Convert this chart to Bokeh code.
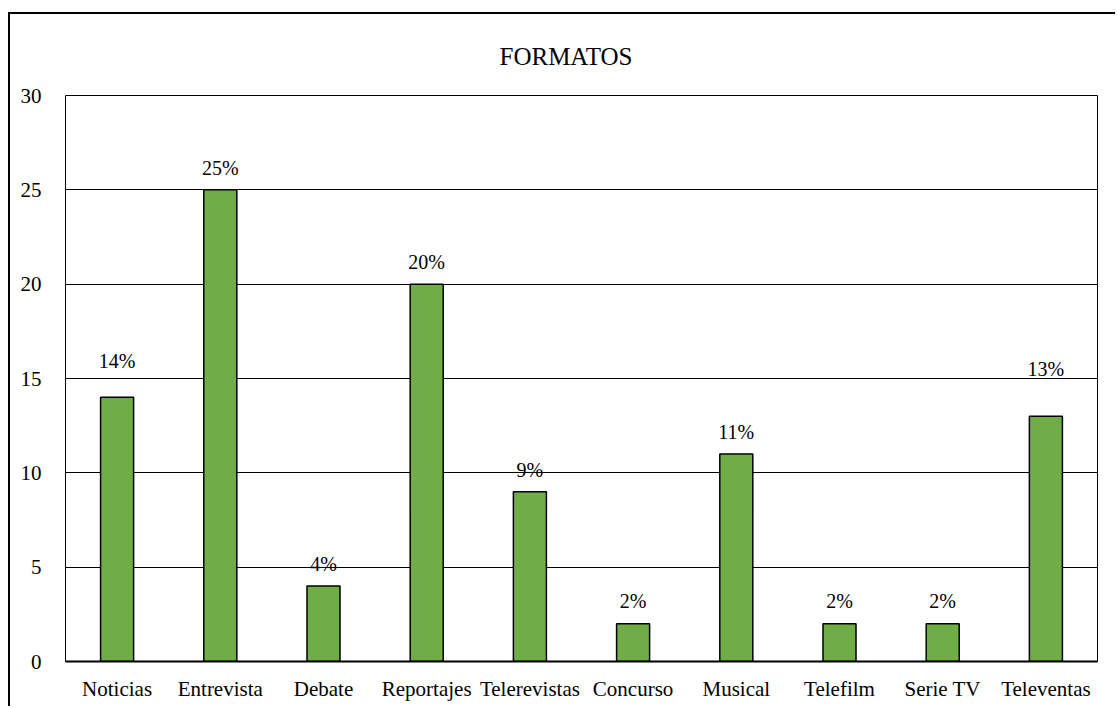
from bokeh.plotting import figure
from bokeh.models import ColumnDataSource, FactorRange, FixedTicker
from bokeh.core.properties import value
from bokeh.embed import file_html
from bokeh.resources import INLINE

categories = ["Noticias", "Entrevista", "Debate", "Reportajes", "Telerevistas",
              "Concurso", "Musical", "Telefilm", "Serie TV", "Televentas"]
values = [14, 25, 4, 20, 9, 2, 11, 2, 2, 13]
pct_labels = ["14%", "25%", "4%", "20%", "9%", "2%", "11%", "2%", "2%", "13%"]
y_ticks = [0, 5, 10, 15, 20, 25, 30]

# label offsets above bar tops (pixels) - layout only
label_offsets = [36, 22, 22, 22, 22, 23, 22, 23, 23, 47]

FONT = "'Liberation Serif'"

src = ColumnDataSource(dict(cat=categories, val=values, lab=pct_labels,
                            off=[-o for o in label_offsets]))

p = figure(width=1107, height=694, x_range=FactorRange(*categories), y_range=(0, 30),
           output_backend="svg", toolbar_location=None,
           min_border_left=55, min_border_right=20, min_border_top=81, min_border_bottom=47,
           margin=(12, 0, 0, 8),
           styles={"border-left": "2px solid black", "border-top": "2px solid black"})

p.background_fill_color = "white"
p.border_fill_color = "white"
p.outline_line_color = "black"
p.outline_line_width = 1

p.vbar(x="cat", top="val", width=0.32, source=src, fill_color="#70AD47",
       line_color="black", line_width=1.5)

p.text(x="cat", y="val", text="lab", y_offset="off", source=src,
       text_align="center", text_baseline="alphabetic",
       text_font=value(FONT), text_font_size="20px", text_color="black")

# grid
p.xgrid.grid_line_color = None
p.ygrid.grid_line_color = "black"
p.ygrid.grid_line_width = 1
p.yaxis.ticker = FixedTicker(ticks=y_ticks)

# y axis
p.yaxis.axis_line_color = None
p.yaxis.major_tick_line_color = None
p.yaxis.minor_tick_line_color = None
p.yaxis.major_label_standoff = 18
p.yaxis.major_label_text_font = FONT
p.yaxis.major_label_text_font_size = "21px"
p.yaxis.major_label_text_color = "black"

# x axis
p.xaxis.axis_line_color = "black"
p.xaxis.axis_line_width = 2
p.xaxis.major_tick_line_color = None
p.xaxis.minor_tick_line_color = None
p.xaxis.major_label_standoff = 9
p.xaxis.major_label_text_font = FONT
p.xaxis.major_label_text_font_size = "21px"
p.xaxis.major_label_text_color = "black"
p.x_range.range_padding = 0

p.title.text = "FORMATOS"
p.title.align = "left"
p.title.offset = 434
p.title.standoff = 51
p.title.text_font = FONT
p.title.text_font_size = "25px"
p.title.text_font_style = "normal"
p.title.text_color = "black"

open("out.html", "w").write(file_html(p, INLINE))
